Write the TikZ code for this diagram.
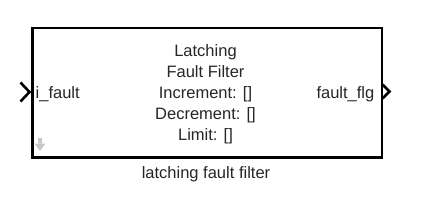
\documentclass[tikz,border=0pt]{standalone}
\usepackage{fontspec}
\setmainfont{Liberation Sans}
\begin{document}
\begin{tikzpicture}[x=1pt,y=-1pt,
  lbl/.style={inner sep=0pt, font=\fontsize{16.5}{20.8}\selectfont, text=black!85},
  port/.style={line width=2.6pt, line join=miter, black},
]
\useasboundingbox (0,0) rectangle (434,204);
% shadow
\fill[black!18] (33,28.5) rectangle (382.5,158);
\node[draw=black, line width=2.5pt, fill=white, inner sep=0pt, minimum width=349.5pt, minimum height=129.5pt, anchor=north west] (blk) at (31,26.5) {};
% ports
\coordinate (inA) at (20.5,82.5);
\coordinate (inB) at (29.5,92);
\coordinate (inC) at (20.5,101.5);
\draw[port] (inA) -- (inB) -- (inC);
\coordinate (outA) at (382.5,84.5);
\coordinate (outB) at (389.5,91.5);
\coordinate (outC) at (382.5,98.5);
\draw[port] (outA) -- (outB) -- (outC);
% texts
\node[lbl, align=center, anchor=base] (title) at (205.5,140) {Latching\\Fault Filter\\Increment: []\\Decrement: []\\Limit: []};
\node[lbl, anchor=base west] (inlbl) at (35.5,98.2) {i\_fault};
\node[lbl, anchor=base east] (outlbl) at (374.5,98.2) {fault\_flg};
\node[lbl, anchor=base] (name) at (206,178) {latching fault filter};
% small gray arrow
\fill[black!22] (38,138) rectangle (42,144) (34.5,143.5) -- (45.5,143.5) -- (40,151) -- cycle;
\end{tikzpicture}
\end{document}
